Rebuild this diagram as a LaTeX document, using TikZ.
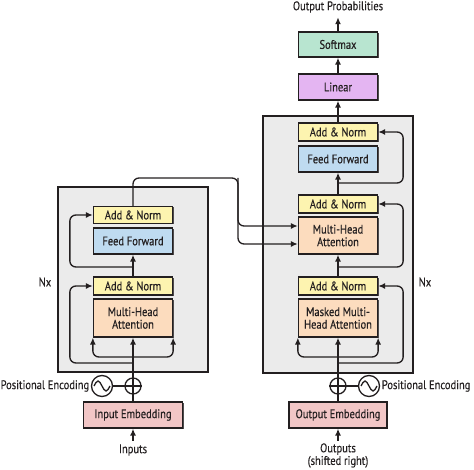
\documentclass[tikz,border=0pt]{standalone}
\usepackage{fontspec}
\setmainfont{PT Sans}[FakeStretch=0.84,FakeBold=0.35]
\usetikzlibrary{arrows.meta,shadows,calc}
\definecolor{ink}{HTML}{231F20}
\definecolor{cAN}{HTML}{FDF4B0}
\definecolor{cFF}{HTML}{BFDBF0}
\definecolor{cMHA}{HTML}{FCDCBE}
\definecolor{cEmb}{HTML}{F2C6C6}
\definecolor{cLin}{HTML}{E4B5F2}
\definecolor{cSoft}{HTML}{B8E5D0}
\definecolor{cStack}{HTML}{EBEBEB}
\begin{document}
\begin{tikzpicture}[x=1pt,y=-1pt,
  every node/.style={font=\fontsize{12.5}{12.6}\selectfont, text=ink},
  blk/.style={draw=ink, line width=1.3pt, inner sep=0pt, align=center,
    minimum width=79pt, drop shadow={shadow xshift=1pt,shadow yshift=-1pt,fill=ink!80,opacity=1}},
  stack/.style={draw=ink, line width=1.3pt, fill=cStack,
    drop shadow={shadow xshift=1pt,shadow yshift=-1pt,fill=ink!80,opacity=1}},
  wire/.style={draw=ink, line width=1.35pt, rounded corners=6pt},
  arr/.style={wire, -{Latex[length=7pt,width=6pt]}},
  ring/.style={circle, draw=ink, line width=1.3pt, inner sep=0pt, fill=white},
]
\useasboundingbox (0,0) rectangle (474,470);

% stacks
\node[stack, minimum width=150pt, minimum height=185pt, inner sep=0pt] (eStack) at (133,279.5) {};
\node[stack, minimum width=150pt, minimum height=257pt, inner sep=0pt] (dStack) at (338,244.5) {};

% encoder blocks
\node[blk, fill=cAN,  minimum height=17pt] (eAN2) at (133,215) {Add \& Norm};
\node[blk, fill=cFF,  minimum height=26pt] (eFF)  at (133,241) {Feed Forward};
\node[blk, fill=cAN,  minimum height=18pt] (eAN1) at (133,286) {Add \& Norm};
\node[blk, fill=cMHA, minimum height=38pt] (eMHA) at (133,318) {Multi-Head\\Attention};
\node[blk, fill=cEmb, minimum height=26pt, minimum width=99pt] (eEmb) at (133,415) {Input Embedding};

% decoder blocks
\node[blk, fill=cAN,  minimum height=18pt] (dAN3) at (338,132) {Add \& Norm};
\node[blk, fill=cFF,  minimum height=26pt] (dFF)  at (338,159) {Feed Forward};
\node[blk, fill=cAN,  minimum height=18pt] (dAN2) at (338,204) {Add \& Norm};
\node[blk, fill=cMHA, minimum height=37pt] (dMHA) at (338,235.5) {Multi-Head\\Attention};
\node[blk, fill=cAN,  minimum height=18pt] (dAN1) at (338,286) {Add \& Norm};
\node[blk, fill=cMHA, minimum height=38pt] (dMMHA) at (338,318) {Masked Multi-\\Head Attention};
\node[blk, fill=cEmb, minimum height=26pt, minimum width=98pt] (dEmb) at (338,415) {Output Embedding};
\node[blk, fill=cLin, minimum height=26pt] (lin)  at (338,87) {Linear};
\node[blk, fill=cSoft, minimum height=25pt] (soft) at (338,44.5) {Softmax};

% labels
\node (outp) at (338,7) {Output Probabilities};
\node (inp) at (133,450) {Inputs};
\node[align=center] (outs) at (338,455.5) {Outputs\\(shifted right)};
\node (eNx) at (45,282) {Nx};
\node (dNx) at (425,282) {Nx};

% positional encodings
\node[ring, minimum size=16pt] (ePlus) at (133,386) {};
\node[ring, minimum size=21pt] (eSin) at (102,386) {};
\node[anchor=east, inner sep=1.5pt] (ePE) at (eSin.west) {Positional Encoding};
\node[ring, minimum size=16pt] (dPlus) at (338,386) {};
\node[ring, minimum size=21pt] (dSin) at (369,386) {};
\node[anchor=west, inner sep=1.5pt] (dPE) at (dSin.east) {Positional Encoding};
\foreach \p in {ePlus,dPlus}{
  \draw[draw=ink, line width=1.3pt] (\p.north) -- (\p.south) (\p.west) -- (\p.east);
}
\foreach \s in {eSin,dSin}{
  \draw[draw=ink, line width=1.3pt] ([xshift=-8pt]\s.center) sin ++(4,-5) cos ++(4,5) sin ++(4,5) cos ++(4,-5);
}
\draw[wire] (eSin) -- (ePlus);
\draw[wire] (dSin) -- (dPlus);

% ---- encoder connectors
\draw[arr] (inp.north) -- (eEmb.south);
\draw[wire] (eEmb.north) -- (ePlus.south);
\coordinate (eBr) at (133,357);
\coordinate (eR1) at (133,363);
\coordinate (eR2) at (133,267);
\draw[wire] (ePlus.north) -- (eR1) -- (eBr);
\draw[arr] (eBr) -- (eMHA.south);
\draw[arr] (eBr) -| (eMHA.south west);
\draw[arr] (eBr) -| (eMHA.south east);
\draw[arr] (eR1) -| ([xshift=-23pt]eAN1.west) -- (eAN1.west);
\draw[arr] (eAN1.north) -- (eFF.south);
\draw[arr] (eR2) -| ([xshift=-23pt]eAN2.west) -- (eAN2.west);
\coordinate (eTop) at (133,178);
\coordinate (eC) at (238,178);
\coordinate (dIn1) at ($(dMHA.west)+(0,-9.5)$);
\coordinate (dIn2) at ($(dMHA.west)+(0,8.5)$);
\draw[arr] (eAN2.north) -- (eTop) -- (eC) |- (dIn1);
\draw[arr] (eC) |- (dIn2);

% ---- decoder connectors
\draw[arr] ([yshift=-1pt]outs.north) -- (dEmb.south);
\draw[wire] (dEmb.north) -- (dPlus.south);
\coordinate (dBr) at (338,357);
\coordinate (dR1) at (338,363);
\coordinate (dR2) at (338,267);
\coordinate (dR3) at (338,183);
\draw[wire] (dPlus.north) -- (dR1) -- (dBr);
\draw[arr] (dBr) -- (dMMHA.south);
\draw[arr] (dBr) -| (dMMHA.south west);
\draw[arr] (dBr) -| (dMMHA.south east);
\draw[arr] (dR1) -| ([xshift=25pt]dAN1.east) -- (dAN1.east);
\draw[arr] (dAN1.north) -- (dMHA.south);
\draw[arr] (dR2) -| ([xshift=25pt]dAN2.east) -- (dAN2.east);
\draw[arr] (dAN2.north) -- (dFF.south);
\draw[arr] (dR3) -| ([xshift=25pt]dAN3.east) -- (dAN3.east);
\draw[arr] (dAN3.north) -- (lin.south);
\draw[arr] (lin.north) -- (soft.south);
\draw[arr] (soft.north) -- ([yshift=-1pt]outp.south);
\end{tikzpicture}
\end{document}
